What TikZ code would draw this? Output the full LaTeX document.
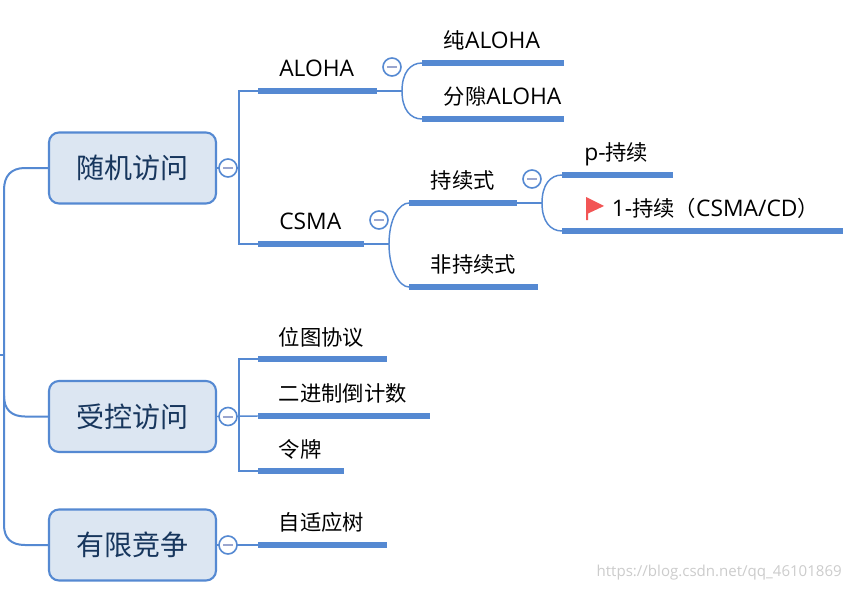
\documentclass[tikz,border=0pt]{standalone}
\usepackage{fontspec}
\setmainfont[Scale=1.07]{Open Sans}
\newfontfamily\cjk{Noto Sans CJK SC}
\definecolor{linkblue}{HTML}{5589D2}
\definecolor{boxfill}{HTML}{DCE6F2}
\definecolor{boxtext}{HTML}{17365D}
\definecolor{minusc}{HTML}{9AA6CF}
\definecolor{flagred}{HTML}{F25555}
\def\px{0.75pt}
\tikzset{
  mainbox/.style={draw=linkblue,fill=boxfill,line width=1.6pt,rounded corners=7.5pt,minimum width=167*\px,minimum height=71*\px,inner sep=0,outer sep=0,text=boxtext,font=\cjk\fontsize{21}{21}\selectfont},
  bar/.style={fill=linkblue,draw=none,inner sep=0,outer sep=0,minimum height=5.2*\px,anchor=west},
  label/.style={anchor=west,inner sep=0,text=black,font=\fontsize{16}{16}\selectfont},
  link/.style={draw=linkblue,line width=1.5pt},
  thin link/.style={draw=linkblue,line width=1.1pt},
  collapse/.style={circle,draw=linkblue,fill=white,line width=1.2pt,minimum size=18*\px,inner sep=0,
    path picture={\draw[minusc,line width=1.5pt] ([xshift=-3.4pt]path picture bounding box.center) -- ([xshift=3.4pt]path picture bounding box.center);}},
  mark text/.style={text=black!20,inner sep=0,anchor=east,font=\fontsize{10.55}{12}\selectfont}
}
\begin{document}
\begin{tikzpicture}[x=\px,y=-\px]
\useasboundingbox (0,0) rectangle (850,589);
\fill[white] (0,0) rectangle (850,589);
% main boxes
\node[mainbox] (random) at (132.5,168) {\raisebox{-1pt}{随机访问}};
\node[mainbox] (control) at (132.5,416.5) {\raisebox{-1pt}{受控访问}};
\node[mainbox] (limited) at (132.5,545) {\raisebox{-1pt}{有限竞争}};
% bars
\node[bar,minimum width=119*\px] (aloha) at (258,91) {};
\node[bar,minimum width=106*\px] (csma) at (258,244) {};
\node[bar,minimum width=142*\px] (pure) at (422,63) {};
\node[bar,minimum width=142*\px] (slot) at (422,119) {};
\node[bar,minimum width=108*\px] (persist) at (409,203) {};
\node[bar,minimum width=129*\px] (nonpersist) at (409,287) {};
\node[bar,minimum width=111*\px] (ppersist) at (562,175) {};
\node[bar,minimum width=281*\px] (onepersist) at (562,231) {};
\node[bar,minimum width=129*\px] (bitmap) at (258,359) {};
\node[bar,minimum width=172*\px] (binary) at (258,416) {};
\node[bar,minimum width=86*\px] (token) at (258,471) {};
\node[bar,minimum width=129*\px] (tree) at (258,545) {};
% junctions
\coordinate (trunk) at (4,240);
\coordinate (stub) at (0,355);
\coordinate (jaloha) at (402,91);
\coordinate (jcsma) at (389,244);
\coordinate (jpersist) at (542,203);
\coordinate (branchA) at (239,168);
\coordinate (branchB) at (239,416);
% trunk
\draw[link] (random.west) -- (25,168) .. controls (11,168) and (4,176) .. (4,190) -- (4,525) .. controls (4,538) and (11,545) .. (25,545) -- (limited.west);
\draw[link] (4,396) .. controls (4,409) and (11,416.5) .. (25,416.5) -- (control.west);
\draw[thin link] (stub) -- (trunk |- stub);
% first level links
\draw[thin link] (random.east) -- (branchA);
\draw[thin link] (aloha.west) -| (branchA) |- (csma.west);
\draw[thin link] (control.east) -- (binary.west);
\draw[thin link] (bitmap.west) -| (branchB) |- (token.west);
\draw[thin link] (limited.east) -- (tree.west);
% second level curved links
\draw[thin link] (aloha.east) -- (jaloha);
\draw[thin link] (jaloha) .. controls +(0,-18) and +(-12,0) .. (pure.west);
\draw[thin link] (jaloha) .. controls +(0,18) and +(-12,0) .. (slot.west);
\draw[thin link] (csma.east) -- (jcsma);
\draw[thin link] (jcsma) .. controls +(0,-25) and +(-10,0) .. (persist.west);
\draw[thin link] (jcsma) .. controls +(0,25) and +(-10,0) .. (nonpersist.west);
\draw[thin link] (persist.east) -- (jpersist);
\draw[thin link] (jpersist) .. controls +(0,-18) and +(-12,0) .. (ppersist.west);
\draw[thin link] (jpersist) .. controls +(0,18) and +(-12,0) .. (onepersist.west);
% collapse buttons
\node[collapse] (c1) at (228,168) {};
\node[collapse] (c2) at (228,416.5) {};
\node[collapse] (c3) at (228,545) {};
\node[collapse] (c4) at (392,67) {};
\node[collapse] (c5) at (379,220) {};
\node[collapse] (c6) at (532,179) {};
% labels
\node[label] (talo) at (279,68.5) {ALOHA};
\node[label] (tcsm) at (279,221.5) {CSMA};
\node[label] (tpur) at (443.5,40.5) {{\cjk 纯}ALOHA};
\node[label] (tslo) at (443.5,96.5) {{\cjk 分隙}ALOHA};
\node[label] (tper) at (430.5,180) {{\cjk 持续式}};
\node[label] (tnon) at (430.5,264) {{\cjk 非持续式}};
\node[label] (tpp) at (584,154) {p-{\cjk 持续}};
\node[label] (top) at (611.5,208) {1-{\cjk 持续（}CSMA/CD{\cjk ）}};
\node[label] (tbit) at (278.5,337) {{\cjk 位图协议}};
\node[label] (tbin) at (278.5,393) {{\cjk 二进制倒计数}};
\node[label] (ttok) at (278.5,449) {{\cjk 令牌}};
\node[label] (ttre) at (278.5,522) {{\cjk 自适应树}};
% flag
\fill[flagred] (586,197) -- (604,206) -- (588,213.5) -- (588,220) -- (586,220) -- cycle;
% watermark
\node[mark text] (wm) at (842,572.5) {https://blog.csdn.net/qq\_46101869};
\end{tikzpicture}
\end{document}
